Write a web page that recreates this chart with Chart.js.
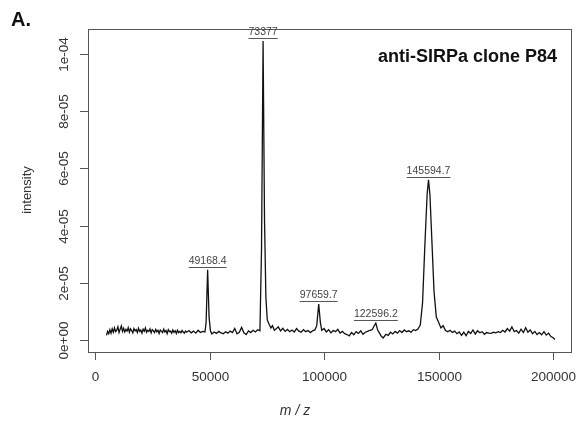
<!DOCTYPE html>
<html lang="en">
<head>
    <meta charset="UTF-8">
    <title>anti-SIRPa clone P84</title>
    <style>
        body {
            margin: 0;
            padding: 0;
            background-color: #fff;
        }
        canvas {
            display: block;
        }
    </style>
</head>
<body>

<canvas id="spectrumChart" width="579" height="423"></canvas>

<script src="https://cdn.jsdelivr.net/npm/chart.js"></script>
<script>
    // m/z values of the trace
    const mz = [
        5000, 5500, 6000, 6500, 7000, 7500, 8000, 8500, 9000, 9500,
        10000, 10500, 11000, 11500, 12000, 12500, 13000, 13500, 14000, 14500,
        15000, 15500, 16000, 16500, 17000, 17500, 18000, 18500, 19000, 19500,
        20000, 20500, 21000, 21500, 22000, 22500, 23000, 23500, 24000, 24500,
        25000, 25500, 26000, 26500, 27000, 27500, 28000, 28500, 29000, 29500,
        30000, 30500, 31000, 31500, 32000, 32500, 33000, 33500, 34000, 34500,
        35000, 35500, 36000, 36500, 37000, 37500, 38000, 38500, 39000, 39500,
        40000, 41000, 42000, 43000, 44000, 45000, 46000, 47000, 48000,
        48500, 49168.4, 49800, 50400,
        51000, 52000, 53000, 54000, 55000, 56000, 57000, 58000, 59000, 60000,
        61000, 62000, 63000, 64000, 65000, 66000, 67000, 68000, 69000, 70000, 71000,
        72000, 72700, 73377, 74000, 74600, 75200, 76000, 76800, 77500, 78300,
        79000, 80000, 81000, 82000, 83000, 84000, 85000, 86000, 87000, 88000,
        89000, 90000, 91000, 92000, 93000, 94000, 95000, 96000,
        96800, 97659.7, 98400, 99000,
        100000, 101000, 102000, 103000, 104000, 105000, 106000, 107000, 108000, 109000,
        110000, 111000, 112000, 113000, 114000, 115000, 116000, 117000, 118000, 119000, 120000,
        121000, 121800, 122596.2, 123400, 124200, 125000, 125800,
        127000, 128000, 129000, 130000, 131000, 132000, 133000, 134000, 135000, 136000,
        137000, 138000, 139000, 140000,
        141000, 142000, 143000, 144000, 145000, 145594.7, 146200, 147000, 148000, 149000,
        150000, 151000, 152000, 153000,
        154000, 155000, 156000, 157000, 158000, 159000, 160000, 161000, 162000, 163000,
        164000, 165000, 166000, 167000, 168000, 169000, 170000, 171000, 172000, 173000,
        174000, 175000, 176000, 177000, 178000, 179000, 180000, 181000, 182000, 183000,
        184000, 185000, 186000, 187000, 188000, 189000, 190000, 191000, 192000, 193000,
        194000, 195000, 196000, 197000, 198000, 199000, 200000, 200800
    ];

    // intensity, in units of 1e-06
    const intensity = [
        1.6, 3.0, 2.2, 3.6, 2.4, 3.9, 2.7, 4.2, 2.9, 3.4,
        4.6, 2.6, 3.8, 4.9, 3.0, 4.1, 2.8, 3.7, 3.1, 4.3,
        2.7, 3.9, 3.3, 2.5, 4.0, 3.2, 3.6, 2.6, 4.1, 3.0,
        3.5, 2.4, 3.8, 3.1, 4.2, 2.7, 3.4, 3.0, 3.9, 2.5,
        3.6, 3.2, 2.6, 3.7, 2.9, 3.4, 2.3, 3.5, 3.0, 2.6,
        3.8, 2.8, 3.3, 2.2, 3.6, 2.9, 3.1, 2.4, 3.5, 2.7,
        3.2, 2.3, 3.4, 2.6, 3.0, 2.5, 3.3, 2.8, 2.4, 3.1,
        2.7, 3.3, 2.5, 3.1, 2.4, 3.4, 2.6, 3.0, 2.8,
        6.0, 24.5, 8.0, 3.2,
        2.1, 2.8, 2.3, 3.0, 2.5, 2.2, 2.9, 2.4, 3.1, 2.6,
        4.0, 2.2, 2.7, 4.4, 2.5, 1.9, 3.2, 2.6, 3.4, 2.8, 3.6,
        3.2, 32, 104.5, 42, 15, 7.0, 5.5, 4.2, 5.0, 3.4,
        3.8, 4.6, 3.2, 4.1, 3.0, 3.7, 2.9, 3.5, 2.8, 4.0,
        3.1, 2.7, 3.6, 2.9, 3.3, 2.6, 3.2, 3.5,
        5.0, 12.6, 6.0, 3.4,
        4.0, 2.8, 3.6, 2.5, 3.3, 2.9, 3.7, 2.4, 3.0, 2.2,
        1.9, 1.4, 2.6, 1.8, 2.9, 2.3, 3.2, 2.0, 2.7, 3.0, 3.4,
        3.6, 4.8, 5.9, 3.5, 2.4, 1.3, 0.7,
        2.0, 1.6, 2.7, 2.1, 3.0, 2.4, 3.3, 2.6, 3.5, 2.9,
        3.2, 2.7, 3.6, 3.3,
        3.8, 5.2, 13, 33, 51, 56, 51, 36, 17, 8.0,
        6.2, 4.2, 5.0, 3.3,
        2.9, 3.4, 2.6, 3.1, 2.2, 2.8, 1.6, 2.7, 1.5, 3.0,
        2.3, 3.5, 2.1, 3.2, 2.5, 2.9, 2.0, 2.6, 2.4, 2.3,
        2.7, 2.5, 2.9, 2.6, 3.4, 2.8, 4.0, 3.1, 4.6, 2.9,
        3.3, 2.4, 3.8, 2.6, 4.3, 2.7, 3.5, 2.2, 3.0, 1.9,
        2.6, 1.8, 2.9, 1.7, 2.4, 1.2, 0.8, 0.2
    ];

    // labelled peaks
    const peakMz = [49168.4, 73377, 97659.7, 122596.2, 145594.7];
    const peakHeight = [24.5, 104.5, 12.6, 5.9, 56];
    const peakText = ['49168.4', '73377', '97659.7', '122596.2', '145594.7'];

    // axis ticks
    const xTicks = [0, 50000, 100000, 150000, 200000];
    const xTickLabels = ['0', '50000', '100000', '150000', '200000'];
    const yTicks = [0, 20, 40, 60, 80, 100];
    const yTickLabels = ['0e+00', '2e-05', '4e-05', '6e-05', '8e-05', '1e-04'];

    const FONT = '"Liberation Sans", Arial, sans-serif';

    // R-style box, ticks and annotations drawn over the chart
    const rStyle = {
        id: 'rStyle',
        afterDraw(chart) {
            const ctx = chart.ctx;
            const a = chart.chartArea;
            const x = chart.scales.x;
            const y = chart.scales.y;
            ctx.save();

            // box
            ctx.strokeStyle = '#555';
            ctx.lineWidth = 1;
            ctx.strokeRect(a.left + 0.5, a.top + 0.5, a.right - a.left, a.bottom - a.top);

            // x axis
            ctx.fillStyle = '#333';
            ctx.font = '13.5px ' + FONT;
            ctx.textAlign = 'center';
            ctx.textBaseline = 'middle';
            xTicks.forEach((v, i) => {
                const px = Math.round(x.getPixelForValue(v)) + 0.5;
                ctx.beginPath();
                ctx.moveTo(px, a.bottom);
                ctx.lineTo(px, a.bottom + 8);
                ctx.stroke();
                ctx.fillText(xTickLabels[i], px, a.bottom + 25);
            });

            // y axis
            yTicks.forEach((v, i) => {
                const py = Math.round(y.getPixelForValue(v)) + 0.5;
                ctx.beginPath();
                ctx.moveTo(a.left - 8, py);
                ctx.lineTo(a.left, py);
                ctx.stroke();
                ctx.save();
                ctx.translate(a.left - 24, py);
                ctx.rotate(-Math.PI / 2);
                ctx.fillText(yTickLabels[i], 0, 0);
                ctx.restore();
            });

            // axis titles
            ctx.font = '13px ' + FONT;
            ctx.save();
            ctx.translate(27, 190);
            ctx.rotate(-Math.PI / 2);
            ctx.fillText('intensity', 0, 0);
            ctx.restore();
            ctx.font = 'italic 14px ' + FONT;
            ctx.fillText('m / z', 295, 411);

            // peak labels, underlined
            ctx.font = '10.5px ' + FONT;
            ctx.fillStyle = '#444';
            ctx.strokeStyle = '#555';
            peakMz.forEach((m, i) => {
                const px = x.getPixelForValue(m);
                const py = y.getPixelForValue(peakHeight[i]);
                ctx.fillText(peakText[i], px, py - 9);
                const w = ctx.measureText(peakText[i]).width;
                ctx.beginPath();
                ctx.moveTo(px - w / 2, Math.round(py - 3) + 0.5);
                ctx.lineTo(px + w / 2, Math.round(py - 3) + 0.5);
                ctx.stroke();
            });

            // panel title and letter
            ctx.fillStyle = '#111';
            ctx.font = 'bold 18px ' + FONT;
            ctx.textAlign = 'right';
            ctx.fillText('anti-SIRPa clone P84', 557, 57);
            ctx.textAlign = 'left';
            ctx.font = 'bold 20px ' + FONT;
            ctx.fillText('A.', 11, 20);

            ctx.restore();
        }
    };

    const ctx = document.getElementById('spectrumChart').getContext('2d');
    const spectrumChart = new Chart(ctx, {
        type: 'line',
        data: {
            datasets: [{
                data: mz.map((m, i) => ({ x: m, y: intensity[i] })),
                borderColor: '#111',
                borderWidth: 1.3,
                pointRadius: 0,
                tension: 0,
                fill: false
            }]
        },
        options: {
            responsive: false,
            animation: false,
            layout: {
                padding: { left: 88, right: 8, top: 29, bottom: 71 }
            },
            plugins: {
                legend: { display: false },
                tooltip: { enabled: false }
            },
            scales: {
                x: { type: 'linear', min: -3057, max: 207800, display: false },
                y: { min: -4.2, max: 108.7, display: false }
            }
        },
        plugins: [rStyle]
    });
</script>

</body>
</html>
